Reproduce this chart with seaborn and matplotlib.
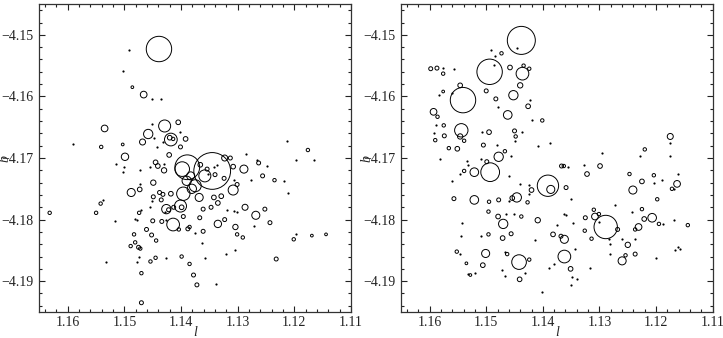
import numpy as np
import matplotlib
matplotlib.use("Agg")
import matplotlib.pyplot as plt
import seaborn as sns
from matplotlib.ticker import MultipleLocator

# left panel: resolved sources (l, b, radius in 1e-3 deg)
l_src1 = [1.1439, 1.1486, 1.1466, 1.1535, 1.1429, 1.1405, 1.1458, 1.1418, 1.1420, 1.1414,
          1.1392, 1.1468, 1.1401, 1.1541, 1.1176, 1.1499, 1.1421, 1.1445, 1.1441, 1.1430,
          1.1398, 1.1389, 1.1345, 1.1366, 1.1358, 1.1383, 1.1390, 1.1375, 1.1381, 1.1396,
          1.1368, 1.1401, 1.1323, 1.1313, 1.1289, 1.1308, 1.1354, 1.1340, 1.1324, 1.1263,
          1.1256, 1.1235, 1.1301, 1.1308, 1.1329, 1.1342, 1.1335, 1.1347, 1.1361, 1.1449,
          1.1488, 1.1473, 1.1438, 1.1432, 1.1449, 1.1435, 1.1418, 1.1542, 1.1550, 1.1474,
          1.1426, 1.1422, 1.1413, 1.1399, 1.1396, 1.1414, 1.1450, 1.1434, 1.1404, 1.1388,
          1.1385, 1.1367, 1.1335, 1.1323, 1.1287, 1.1304, 1.1301, 1.1291, 1.1268, 1.1252,
          1.1243, 1.1201, 1.1169, 1.1144, 1.1483, 1.1481, 1.1489, 1.1461, 1.1452, 1.1444,
          1.1475, 1.1472, 1.1454, 1.1445, 1.1399, 1.1385, 1.1378, 1.1372, 1.1361, 1.1232,
          1.1470, 1.1470, 1.1632, 1.1503]
b_src1 = [-4.1523, -4.1585, -4.1597, -4.1652, -4.1648, -4.1642, -4.1661, -4.1670, -4.1667, -4.1669,
          -4.1669, -4.1674, -4.1682, -4.1682, -4.1687, -4.1698, -4.1695, -4.1707, -4.1713, -4.1720,
          -4.1718, -4.1715, -4.1721, -4.1711, -4.1729, -4.1729, -4.1737, -4.1745, -4.1750, -4.1758,
          -4.1764, -4.1778, -4.1700, -4.1700, -4.1718, -4.1714, -4.1718, -4.1727, -4.1733, -4.1708,
          -4.1729, -4.1736, -4.1743, -4.1752, -4.1762, -4.1764, -4.1773, -4.1780, -4.1783, -4.1740,
          -4.1756, -4.1751, -4.1756, -4.1759, -4.1763, -4.1768, -4.1758, -4.1774, -4.1789, -4.1789,
          -4.1783, -4.1784, -4.1780, -4.1780, -4.1795, -4.1808, -4.1802, -4.1803, -4.1816, -4.1815,
          -4.1812, -4.1797, -4.1807, -4.1800, -4.1780, -4.1812, -4.1824, -4.1829, -4.1793, -4.1783,
          -4.1805, -4.1832, -4.1826, -4.1824, -4.1824, -4.1837, -4.1843, -4.1816, -4.1825, -4.1834,
          -4.1845, -4.1847, -4.1868, -4.1862, -4.1860, -4.1872, -4.1890, -4.1906, -4.1819, -4.1864,
          -4.1887, -4.1935, -4.1789, -4.1678]
r_src1 = [2.24, 0.24, 0.59, 0.59, 1.06, 0.41, 0.82, 1.12, 0.41, 0.30,
          0.41, 0.53, 0.35, 0.30, 0.30, 0.65, 0.41, 0.41, 0.41, 0.47,
          1.29, 2.18, 3.24, 0.41, 1.06, 0.71, 0.82, 1.06, 0.82, 1.18,
          0.71, 1.06, 0.53, 0.35, 0.71, 0.41, 0.35, 0.35, 0.35, 0.35,
          0.35, 0.30, 0.35, 0.88, 0.41, 0.41, 0.41, 0.35, 0.35, 0.47,
          0.71, 0.41, 0.35, 0.35, 0.35, 0.35, 0.41, 0.30, 0.30, 0.30,
          0.82, 0.35, 0.35, 0.41, 0.35, 1.12, 0.35, 0.35, 0.30, 0.35,
          0.30, 0.35, 0.65, 0.35, 0.53, 0.47, 0.30, 0.30, 0.71, 0.35,
          0.35, 0.30, 0.24, 0.24, 0.30, 0.30, 0.30, 0.35, 0.35, 0.30,
          0.35, 0.30, 0.30, 0.30, 0.30, 0.30, 0.35, 0.35, 0.35, 0.35,
          0.30, 0.35, 0.30, 0.24]

# left panel: unresolved sources
l_pt1 = [1.1492, 1.1503, 1.1452, 1.1436, 1.1452, 1.1401, 1.1447, 1.1442, 1.1432, 1.1591,
         1.1213, 1.1197, 1.1166, 1.1515, 1.1501, 1.1430, 1.1454, 1.1473, 1.1336, 1.1353,
         1.1307, 1.1285, 1.1266, 1.1248, 1.1276, 1.1219, 1.1211, 1.1473, 1.1451, 1.1538,
         1.1471, 1.1454, 1.1428, 1.1517, 1.1482, 1.1478, 1.1426, 1.1376, 1.1319, 1.1307,
         1.1301, 1.1272, 1.1197, 1.1474, 1.1477, 1.1426, 1.1358, 1.1363, 1.1339, 1.1320,
         1.1305, 1.1533, 1.1503, 1.1341]
b_pt1 = [-4.1525, -4.1559, -4.1604, -4.1604, -4.1645, -4.1657, -4.1667, -4.1682, -4.1674, -4.1678,
         -4.1672, -4.1703, -4.1704, -4.1709, -4.1715, -4.1710, -4.1714, -4.1719, -4.1711, -4.1726,
         -4.1735, -4.1693, -4.1704, -4.1713, -4.1736, -4.1737, -4.1757, -4.1742, -4.1769, -4.1768,
         -4.1784, -4.1780, -4.1788, -4.1802, -4.1799, -4.1801, -4.1800, -4.1821, -4.1785, -4.1786,
         -4.1787, -4.1811, -4.1824, -4.1861, -4.1869, -4.1862, -4.1862, -4.1838, -4.1904, -4.1856,
         -4.1849, -4.1869, -4.1722, -4.1714]

# right panel: resolved sources
l_src2 = [1.1438, 1.1473, 1.1494, 1.1598, 1.1587, 1.1576, 1.1458, 1.1436, 1.1434, 1.1424,
          1.1546, 1.1576, 1.1541, 1.1500, 1.1483, 1.1452, 1.1440, 1.1426, 1.1401, 1.1462,
          1.1593, 1.1586, 1.1575, 1.1590, 1.1574, 1.1544, 1.1546, 1.1539, 1.1566, 1.1551,
          1.1495, 1.1505, 1.1478, 1.1467, 1.1450, 1.1448, 1.1499, 1.1493, 1.1521, 1.1539,
          1.1367, 1.1363, 1.1322, 1.1299, 1.1391, 1.1386, 1.1359, 1.1420, 1.1446, 1.1454,
          1.1427, 1.1478, 1.1495, 1.1521, 1.1557, 1.1496, 1.1479, 1.1470, 1.1438, 1.1409,
          1.1382, 1.1368, 1.1362, 1.1325, 1.1326, 1.1314, 1.1308, 1.1310, 1.1301, 1.1289,
          1.1268, 1.1250, 1.1254, 1.1260, 1.1237, 1.1237, 1.1231, 1.1225, 1.1221, 1.1207,
          1.1195, 1.1198, 1.1144, 1.1241, 1.1247, 1.1225, 1.1220, 1.1204, 1.1163, 1.1172,
          1.1175, 1.1552, 1.1535, 1.1528, 1.1501, 1.1506, 1.1496, 1.1471, 1.1463, 1.1456,
          1.1442, 1.1441, 1.1424, 1.1351, 1.1362]
b_src2 = [-4.1509, -4.1530, -4.1560, -4.1555, -4.1554, -4.1563, -4.1553, -4.1563, -4.1550, -4.1555,
          -4.1582, -4.1592, -4.1606, -4.1591, -4.1604, -4.1598, -4.1582, -4.1616, -4.1639, -4.1630,
          -4.1625, -4.1633, -4.1647, -4.1671, -4.1664, -4.1655, -4.1665, -4.1672, -4.1684, -4.1685,
          -4.1658, -4.1679, -4.1698, -4.1689, -4.1656, -4.1665, -4.1706, -4.1723, -4.1723, -4.1721,
          -4.1713, -4.1713, -4.1726, -4.1713, -4.1745, -4.1751, -4.1748, -4.1752, -4.1764, -4.1765,
          -4.1772, -4.1768, -4.1771, -4.1768, -4.1766, -4.1787, -4.1795, -4.1807, -4.1795, -4.1801,
          -4.1824, -4.1827, -4.1832, -4.1797, -4.1818, -4.1831, -4.1795, -4.1784, -4.1791, -4.1812,
          -4.1816, -4.1841, -4.1858, -4.1867, -4.1856, -4.1816, -4.1812, -4.1783, -4.1799, -4.1797,
          -4.1807, -4.1767, -4.1809, -4.1752, -4.1726, -4.1738, -4.1686, -4.1728, -4.1742, -4.1750,
          -4.1665, -4.1852, -4.1871, -4.1890, -4.1855, -4.1874, -4.1824, -4.1830, -4.1856, -4.1823,
          -4.1869, -4.1897, -4.1865, -4.1880, -4.1860]
r_src2 = [2.47, 0.30, 2.24, 0.35, 0.35, 0.30, 0.41, 1.12, 0.30, 0.30,
          0.41, 0.24, 2.24, 0.35, 0.35, 0.82, 0.47, 0.41, 0.30, 0.76,
          0.59, 0.30, 0.30, 0.30, 0.35, 1.18, 0.47, 0.30, 0.30, 0.41,
          0.41, 0.35, 0.82, 0.30, 0.35, 0.30, 0.35, 1.65, 0.76, 0.30,
          0.35, 0.30, 0.41, 0.41, 1.88, 0.71, 0.35, 0.41, 0.82, 0.41,
          0.30, 0.35, 0.30, 0.76, 0.35, 0.30, 0.41, 0.82, 0.30, 0.47,
          0.41, 0.35, 0.71, 0.35, 0.30, 0.30, 0.59, 0.30, 0.30, 2.06,
          0.35, 0.47, 0.30, 0.71, 0.35, 0.30, 0.59, 0.30, 0.41, 0.76,
          0.30, 0.30, 0.30, 0.71, 0.30, 0.41, 0.30, 0.30, 0.59, 0.30,
          0.53, 0.30, 0.24, 0.24, 0.71, 0.41, 0.30, 0.41, 0.30, 0.35,
          1.29, 0.41, 0.30, 0.41, 1.12]

# right panel: unresolved sources
l_pt2 = [1.1445, 1.1491, 1.1484, 1.1486, 1.1577, 1.1556, 1.1583, 1.1561, 1.1422, 1.1420,
         1.1479, 1.1588, 1.1593, 1.1508, 1.1481, 1.1456, 1.1450, 1.1437, 1.1408, 1.1387,
         1.1582, 1.1534, 1.1532, 1.1509, 1.1459, 1.1441, 1.1561, 1.1547, 1.1355, 1.1327,
         1.1295, 1.1350, 1.1359, 1.1460, 1.1425, 1.1425, 1.1465, 1.1451, 1.1375, 1.1363,
         1.1347, 1.1344, 1.1301, 1.1283, 1.1281, 1.1281, 1.1272, 1.1261, 1.1237, 1.1242,
         1.1188, 1.1201, 1.1166, 1.1157, 1.1162, 1.1168, 1.1228, 1.1203, 1.1190, 1.1162,
         1.1169, 1.1175, 1.1176, 1.1546, 1.1543, 1.1545, 1.1533, 1.1520, 1.1510, 1.1473,
         1.1467, 1.1466, 1.1431, 1.1414, 1.1401, 1.1389, 1.1381, 1.1348, 1.1339, 1.1351,
         1.1316]
b_pt2 = [-4.1521, -4.1525, -4.1535, -4.1549, -4.1554, -4.1555, -4.1597, -4.1595, -4.1605, -4.1639,
         -4.1617, -4.1646, -4.1659, -4.1658, -4.1679, -4.1697, -4.1673, -4.1657, -4.1680, -4.1675,
         -4.1702, -4.1705, -4.1712, -4.1701, -4.1730, -4.1742, -4.1737, -4.1726, -4.1714, -4.1711,
         -4.1692, -4.1767, -4.1793, -4.1769, -4.1759, -4.1744, -4.1791, -4.1791, -4.1809, -4.1791,
         -4.1805, -4.1847, -4.1804, -4.1832, -4.1839, -4.1856, -4.1777, -4.1831, -4.1831, -4.1788,
         -4.1807, -4.1863, -4.1849, -4.1848, -4.1844, -4.1801, -4.1696, -4.1741, -4.1735, -4.1726,
         -4.1751, -4.1676, -4.1697, -4.1856, -4.1806, -4.1826, -4.1888, -4.1886, -4.1826, -4.1882,
         -4.1853, -4.1891, -4.1886, -4.1833, -4.1917, -4.1879, -4.1872, -4.1894, -4.1897, -4.1906,
         -4.1878]

sns.set_style("ticks")
plt.rcParams["font.family"] = ["Liberation Serif", "DejaVu Serif"]
plt.rcParams["xtick.direction"] = "in"
plt.rcParams["ytick.direction"] = "in"

fig = plt.figure(figsize=(7.23, 3.38), dpi=100)
ax1 = fig.add_axes([0.0546, 0.077, 0.4308, 0.911])
ax2 = fig.add_axes([0.555, 0.077, 0.4308, 0.911])

panels = [(ax1, l_src1, b_src1, r_src1, l_pt1, b_pt1),
          (ax2, l_src2, b_src2, r_src2, l_pt2, b_pt2)]

for ax, ls, bs, rs, lp, bp in panels:
    # marker diameter in points from radius in 1e-3 deg (5.67 px per 1e-3 deg)
    sizes = (np.array(rs) * 2 * 5.67 * 0.72) ** 2
    sns.scatterplot(x=ls, y=bs, s=sizes, marker="o", facecolors="none",
                    edgecolors="black", linewidths=0.7, ax=ax, legend=False)
    sns.scatterplot(x=lp, y=bp, s=2.5, marker="o", color="black",
                    linewidth=0, ax=ax, legend=False)
    ax.set_xlim(1.165, 1.11)
    ax.set_ylim(-4.195, -4.145)
    ax.xaxis.set_major_locator(MultipleLocator(0.01))
    ax.xaxis.set_minor_locator(MultipleLocator(0.002))
    ax.yaxis.set_major_locator(MultipleLocator(0.01))
    ax.yaxis.set_minor_locator(MultipleLocator(0.002))
    ax.tick_params(which="both", top=True, right=True, direction="in",
                   labelsize=10, width=0.8, colors="#222222")
    ax.tick_params(which="major", length=4.5)
    ax.tick_params(axis="x", which="major", pad=3)
    ax.tick_params(axis="y", which="major", pad=4)
    ax.tick_params(which="minor", length=2.5)
    ax.set_xticklabels(["%.2f" % v for v in ax.get_xticks()])
    ax.set_yticklabels(["\u2212%.2f" % abs(v) for v in ax.get_yticks()])
    for sp in ax.spines.values():
        sp.set_linewidth(0.9)
        sp.set_color("#333333")
    ax.set_xlabel("l", fontstyle="italic", fontsize=10, labelpad=-2)
    ax.set_ylabel("b", fontstyle="italic", fontsize=10, labelpad=-7)

fig.savefig("out.png", dpi=100)
